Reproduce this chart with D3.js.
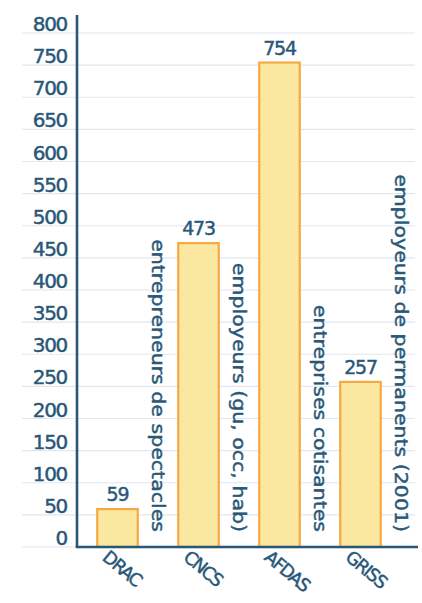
<!DOCTYPE html>
<html>
<head>
<meta charset="utf-8">
<script src="https://cdn.jsdelivr.net/npm/d3@7"></script>
<style>
  body { margin: 0; background: #fff; }
  svg text { font-family: "DejaVu Sans", sans-serif; fill: #285778; stroke: #285778; stroke-width: 0.45px; }
</style>
</head>
<body>
<div id="chart"></div>
<script>
// Data
const categories = ['DRAC', 'CNCS', 'AFDAS', 'GRISS'];
const values = [59, 473, 754, 257];
const notes = [
    'entrepreneurs de spectacles',
    'employeurs (gu, occ, hab)',
    'entreprises cotisantes',
    'employeurs de permanents (2001)'
];
const yTicks = d3.range(0, 801, 50);

const W = 422, H = 603;
const axisX = 77, baseY = 547;

const svg = d3.select('#chart')
    .append('svg')
    .attr('width', W)
    .attr('height', H);

// Scales
const x = d3.scaleBand()
    .domain(categories)
    .range([axisX, 401])
    .paddingInner(0.5)
    .paddingOuter(0.25);

const y = d3.scaleLinear()
    .domain([0, 800])
    .range([baseY, 33]);

// Gridlines
svg.append('g')
    .selectAll('line')
    .data(yTicks)
    .enter()
    .append('line')
    .attr('x1', 22)
    .attr('x2', 415)
    .attr('y1', d => y(d))
    .attr('y2', d => y(d))
    .attr('stroke', '#dfe7ef')
    .attr('stroke-width', 1.2);

// Y tick labels (sit a bit above their gridline)
const yAxis = svg.append('g')
    .attr('transform', `translate(${axisX - 10},0)`)
    .call(d3.axisLeft(y).tickValues(yTicks).tickSize(0).tickPadding(0));
yAxis.select('.domain').remove();
yAxis.selectAll('text')
    .attr('dy', '-0.12em')
    .style('font-family', '"DejaVu Sans", sans-serif')
    .style('font-size', '20px')
    .style('letter-spacing', '-1.3px')
    .style('fill', '#285778');

// Bars
svg.append('g')
    .selectAll('rect')
    .data(values)
    .enter()
    .append('rect')
    .attr('x', (d, i) => x(categories[i]))
    .attr('y', d => y(d))
    .attr('width', x.bandwidth())
    .attr('height', d => baseY - y(d))
    .attr('fill', '#fbe8a0')
    .attr('stroke', '#f5a843')
    .attr('stroke-width', 2.2);

// Value labels
svg.append('g')
    .selectAll('text')
    .data(values)
    .enter()
    .append('text')
    .attr('x', (d, i) => x(categories[i]) + x.bandwidth() / 2)
    .attr('y', d => y(d) - 8)
    .attr('text-anchor', 'middle')
    .style('font-size', '19px')
    .style('letter-spacing', '-1.2px')
    .text(d => d);

// Vertical notes next to each bar
svg.append('g')
    .selectAll('text')
    .data(notes)
    .enter()
    .append('text')
    .attr('transform', (d, i) => {
        const cx = x(categories[i]) + x.bandwidth() + x.step() / 4;
        return `translate(${cx - 6},532) rotate(90) scale(1.14,1)`;
    })
    .attr('text-anchor', 'end')
    .style('font-size', '18px')
    .text(d => d);

// Axis lines
svg.append('line')
    .attr('x1', axisX).attr('x2', axisX)
    .attr('y1', 15).attr('y2', baseY)
    .attr('stroke', '#285778')
    .attr('stroke-width', 2.6);
svg.append('line')
    .attr('x1', axisX - 1.3).attr('x2', 418)
    .attr('y1', baseY).attr('y2', baseY)
    .attr('stroke', '#285778')
    .attr('stroke-width', 2.6);

// Category labels, slanted
svg.append('g')
    .selectAll('text')
    .data(categories)
    .enter()
    .append('text')
    .attr('transform', d => `translate(${x(d) + 4},559) rotate(40)`)
    .attr('text-anchor', 'start')
    .style('font-size', '18px')
    .style('letter-spacing', '-1.6px')
    .text(d => d);
</script>
</body>
</html>
